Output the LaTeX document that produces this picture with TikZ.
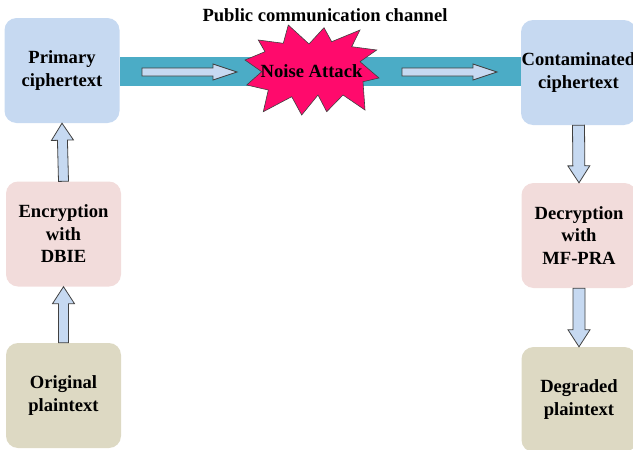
\documentclass[tikz,border=0pt]{standalone}
\usepackage{fontspec}
\setmainfont{Liberation Serif}
\usetikzlibrary{calc}
\definecolor{boxblue}{HTML}{C6D9F1}
\definecolor{boxpink}{HTML}{F2DCDB}
\definecolor{boxtan}{HTML}{DDD9C3}
\definecolor{bandcol}{HTML}{4BACC6}
\definecolor{starred}{HTML}{FF0A6C}
\definecolor{arrline}{HTML}{404040}
% block arrow: #1 tail, #2 tip, #3 shaft half width, #4 head half width, #5 head length
\newcommand\blockarrow[5]{%
  \coordinate (hb) at ($(#2)!#5!(#1)$);
  \draw[barrow] ($(#1)!#3!90:(#2)$) -- ($(hb)!#3!90:(#2)$) -- ($(hb)!#4!90:(#2)$) -- (#2)
    -- ($(hb)!#4!-90:(#2)$) -- ($(hb)!#3!-90:(#2)$) -- ($(#1)!#3!-90:(#2)$) -- cycle;}
\begin{document}
\begin{tikzpicture}[x=1pt,y=-1pt,
  lbl/.style={font=\bfseries\fontsize{18.6}{22.5}\selectfont, align=center},
  stage/.style={lbl, rounded corners=12pt, minimum width=115pt, minimum height=105pt, inner sep=0pt},
  barrow/.style={draw=arrline, line width=0.8pt, fill=boxblue, line join=miter}]
\useasboundingbox (0,0) rectangle (633,450);
% boxes
\node[stage, fill=boxblue] (prim) at (62,70.5) {Primary\\ciphertext};
\node[stage, fill=boxpink] (enc) at (63.5,234) {Encryption\\with\\DBIE};
\node[stage, fill=boxtan] (orig) at (63.5,395.5) {Original\\plaintext};
\node[stage, fill=boxblue] (cont) at (578.5,72.5) {Contaminated\\ciphertext};
\node[stage, fill=boxpink] (dec) at (579,235.5) {Decryption\\with\\MF-PRA};
\node[stage, fill=boxtan] (deg) at (579,399.5) {Degraded\\plaintext};
% channel band
\fill[bandcol] (prim.east |- 0,57) rectangle (cont.west |- 0,86);
\node[lbl] (title) at (325,15) {Public communication channel};
% arrows in band
\coordinate (a1s) at (142,72);
\coordinate (a1e) at (237,72);
\coordinate (a2s) at (402,72);
\coordinate (a2e) at (497,72);
\blockarrow{a1s}{a1e}{4pt}{8pt}{24pt}
\blockarrow{a2s}{a2e}{4pt}{8pt}{24pt}
% star
\draw[fill=starred, draw=arrline, line width=0.6pt, line join=miter]
  (288.3,25) -- (309,44) -- (324,27.7) -- (331.7,41.7) -- (360,30) -- (351.7,46.7)
  -- (376.7,50) -- (360,61.7) -- (379,78) -- (363,81.7) -- (365,110) -- (343,95)
  -- (326.7,111.7) -- (318,95) -- (301.7,115) -- (291.7,96.7) -- (263.3,111.7)
  -- (268.3,90) -- (246.7,85) -- (261.7,71.7) -- (245,60) -- (265,51.7)
  -- (258.3,40) -- (283.3,43.3) -- cycle;
\node[lbl] (noise) at (311.5,71.5) {Noise Attack};
% vertical arrows
\blockarrow{orig.north}{enc.south}{5pt}{11pt}{17pt}
\blockarrow{enc.north}{prim.south}{5pt}{11pt}{17pt}
\blockarrow{cont.south}{dec.north}{6pt}{11pt}{17pt}
\blockarrow{dec.south}{deg.north}{6pt}{11pt}{17pt}
\end{tikzpicture}
\end{document}
